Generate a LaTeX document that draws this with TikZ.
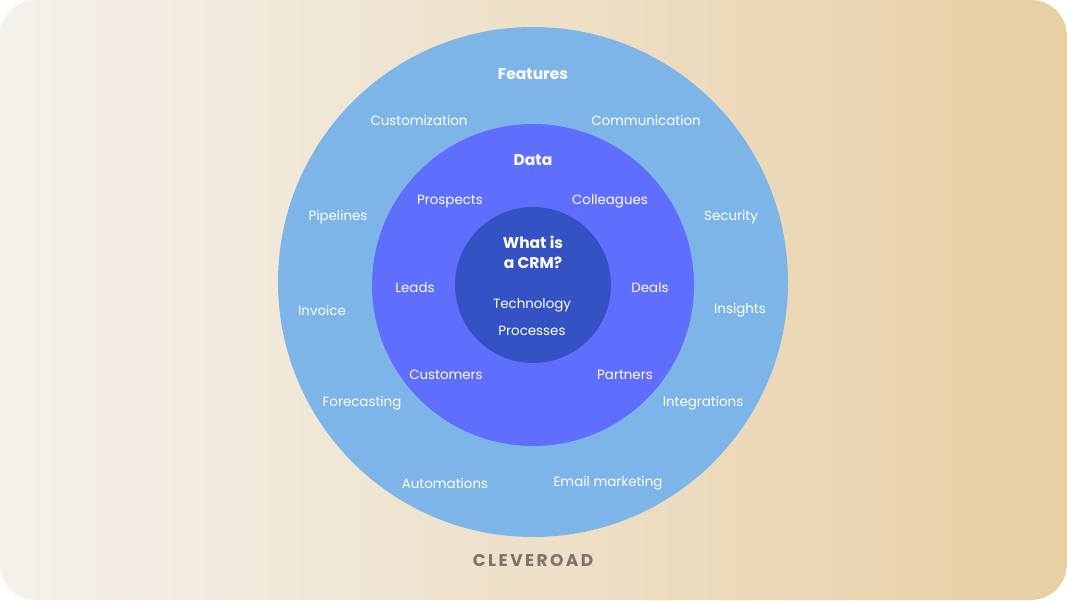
\documentclass[tikz,border=0pt]{standalone}
\usepackage{fontspec}
\setmainfont{Poppins}
\usepackage{xcolor}
\usepackage{tikz}
\usetikzlibrary{positioning,calc}
\definecolor{bgL}{HTML}{F4F1EC}
\definecolor{bgM}{HTML}{EFE5D5}
\definecolor{bgR}{HTML}{E8CFA4}
\definecolor{ringF}{HTML}{7EB5E8}
\definecolor{ringD}{HTML}{5F6EFD}
\definecolor{ringC}{HTML}{3452C4}
\definecolor{brand}{HTML}{7B746C}
\tikzset{
  ring/.style={circle,inner sep=0pt,draw=none},
  lbl/.style={text=white,font=\fontsize{13.4}{15}\selectfont,inner sep=0pt,yshift=-1.5pt},
  ttl/.style={text=white,font=\fontsize{15.5}{19}\selectfont\bfseries,align=center,inner sep=0pt,yshift=-1pt},
}

\begin{document}
\begin{tikzpicture}[x=1pt,y=-1pt]
\useasboundingbox (0,0) rectangle (1067,600);
\shade[left color=bgL,middle color=bgM,right color=bgR,rounded corners=36pt] (0,0) rectangle (1067,600);
\node[ring,fill=ringF,minimum size=510pt] (feat) at (533,282) {};
\node[ring,fill=ringD,minimum size=322pt] (data) at (533,285) {};
\node[ring,fill=ringC,minimum size=156pt] (core) at (533,285) {};
\node[ttl] (tfeat) at (533,73) {Features};
\node[ttl] (tdata) at (533,159) {Data};
\node[ttl,font=\fontsize{15.5}{20}\selectfont\bfseries] (tcore) at (533,251) {What is\\a CRM?};
% outer ring
\foreach \n/\x/\y/\lab in {f1/419/119/{Customization},f2/646/119/{Communication},f3/338/216/{Pipelines},f4/731/216/{Security},f5/322/309/{Invoice},f6/740/309/{Insights},f7/362/402/{Forecasting},f8/703/402/{Integrations},f9/445/482/{Automations},f10/608/482/{Email marketing}}
{\node[lbl] (\n) at (\x,\y) {\lab};}
% data ring
\foreach \n/\x/\y/\lab in {d1/450/200/{Prospects},d2/610/200/{Colleagues},d3/415/286/{Leads},d4/650/286/{Deals},d5/446/373/{Customers},d6/625/373/{Partners}}
{\node[lbl] (\n) at (\x,\y) {\lab};}
\node[lbl] (tech) at (532,304) {Technology};
\node[lbl] (proc) at (532,329) {Processes};
\node[text=brand,font=\fontsize{17}{20}\selectfont\bfseries\addfontfeature{LetterSpace=14}] (logo) at (533,560) {CLEVEROAD};
\end{tikzpicture}
\end{document}
